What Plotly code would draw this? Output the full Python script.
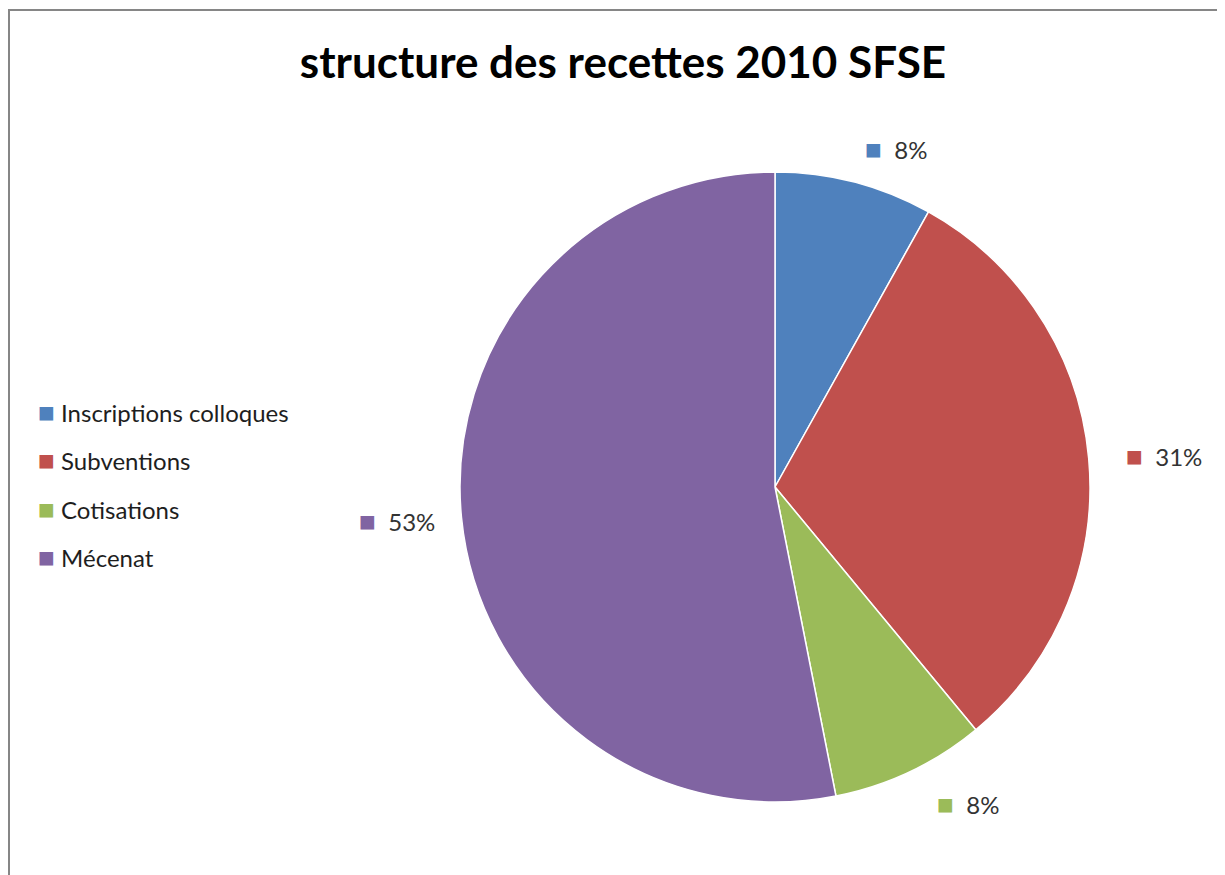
import math
import plotly.graph_objects as go

# ---- data ----
categories = ["Inscriptions colloques", "Subventions", "Cotisations", "Mécenat"]
values = [8.1, 30.9, 7.9, 53.1]
colors = ["#4F81BD", "#C0504D", "#9BBB59", "#8064A2"]
title_text = "structure des recettes 2010 SFSE"

# ---- layout geometry (pixels in the screenshot) ----
OFF = 8                      # default body margin of the html page
W, H = 1225 - OFF, 875 - OFF
CX, CY, R = 775, 487, 315
FONT = "Lato"


def px(x):
    return (x - OFF) / W


def py(y):
    return 1 - (y - OFF) / H


fig = go.Figure()
fig.add_trace(go.Pie(
    labels=categories,
    values=values,
    marker=dict(colors=colors, line=dict(color="white", width=1.5)),
    sort=False,
    direction="clockwise",
    rotation=0,
    textinfo="none",
    hoverinfo="label+percent",
    showlegend=False,
    domain=dict(x=[px(CX - R), px(CX + R)], y=[py(CY + R), py(CY - R)]),
))

annotations = []

# data labels outside the pie
total = sum(values)
cum = 0.0
for cat, v, c in zip(categories, values, colors):
    mid = (cum + v / 2) / total * 2 * math.pi
    cum += v
    s, co = math.sin(mid), math.cos(mid)
    xanchor = "left" if s > 0.1 else ("right" if s < -0.1 else "center")
    gap = 35 if xanchor == "left" else 25
    ax = CX + (R + gap) * s
    ay = CY - (R + gap) * co
    if co < -0.5:
        ax += 10
    pct = round(v / total * 100)
    annotations.append(dict(
        x=px(ax), y=py(ay), xref="paper", yref="paper",
        xanchor=xanchor, yanchor="middle", showarrow=False,
        text=f"<span style='color:{c};font-size:28px'>■</span>  {pct}%",
        font=dict(family=FONT, size=24, color="#333333"),
    ))

# legend (left side)
leg_x, leg_y0, leg_dy = 36, 411, 48.4
for i, (cat, c) in enumerate(zip(categories, colors)):
    annotations.append(dict(
        x=px(leg_x), y=py(leg_y0 + i * leg_dy), xref="paper", yref="paper",
        xanchor="left", yanchor="middle", showarrow=False,
        text=f"<span style='color:{c};font-size:28px'>■</span> {cat}",
        font=dict(family=FONT, size=24, color="#1e1e1e"),
    ))

fig.update_layout(
    width=W, height=H,
    margin=dict(l=0, r=0, t=0, b=0),
    paper_bgcolor="white",
    plot_bgcolor="white",
    title=dict(
        text=f"<b>{title_text}</b>",
        x=px(623), xanchor="center", xref="paper",
        y=py(63), yanchor="middle", yref="paper",
        font=dict(family=FONT, size=44, color="black"),
    ),
    annotations=annotations,
    shapes=[dict(
        type="rect", xref="paper", yref="paper",
        x0=px(9), x1=1.05, y0=-0.05, y1=py(10),
        line=dict(color="#868686", width=2), fillcolor="rgba(0,0,0,0)",
        layer="above",
    )],
)

fig.write_html("out.html")
